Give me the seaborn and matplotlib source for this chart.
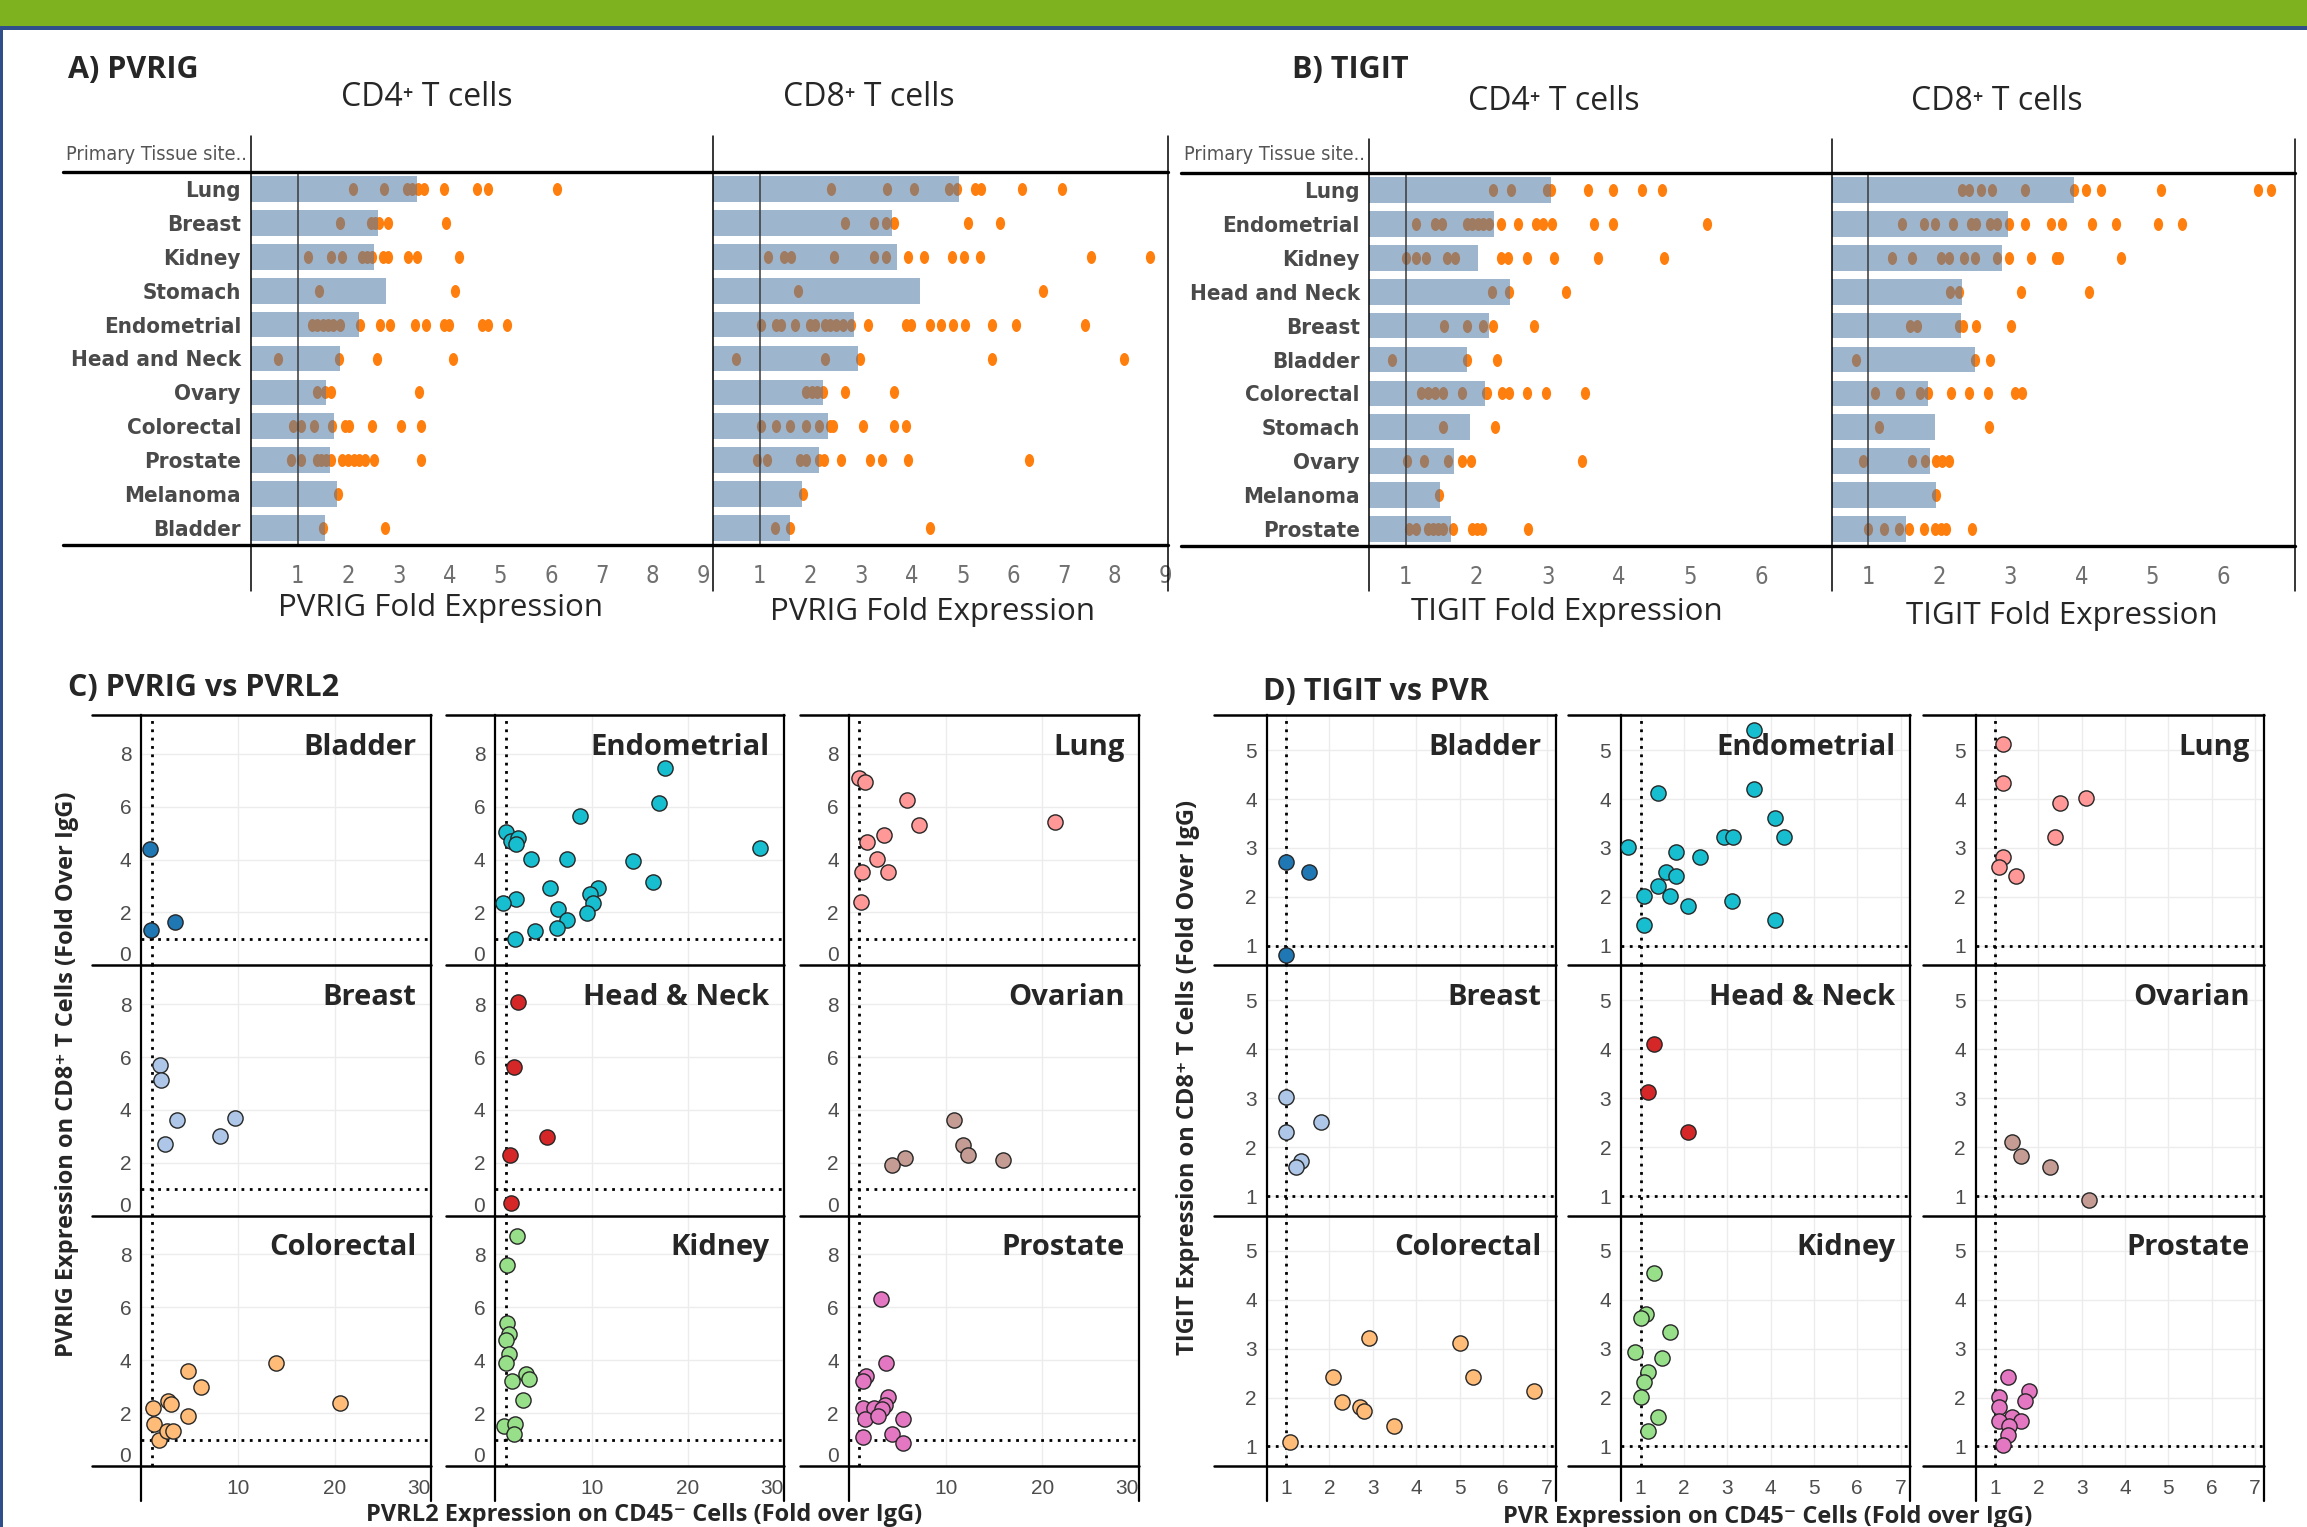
import numpy as np
import pandas as pd
import seaborn as sns
import matplotlib.pyplot as plt
from matplotlib.lines import Line2D
from matplotlib.patches import Rectangle
from matplotlib.markers import MarkerStyle
from matplotlib.transforms import Affine2D
from matplotlib import font_manager as fm

# ---------------- data: A) PVRIG fold expression ----------------
tissues_a = ["Lung", "Breast", "Kidney", "Stomach", "Endometrial", "Head and Neck",
             "Ovary", "Colorectal", "Prostate", "Melanoma", "Bladder"]
pvrig_cd4_bar = [3.35, 2.59, 2.51, 2.74, 2.21, 1.84, 1.56, 1.71, 1.63, 1.78, 1.54]
pvrig_cd4_dots = [
    [2.09, 2.70, 3.15, 3.25, 3.37, 3.50, 3.88, 4.54, 4.76, 6.12],
    [1.84, 2.44, 2.53, 2.60, 2.79, 3.93],
    [1.21, 1.65, 1.87, 2.26, 2.37, 2.47, 2.69, 2.78, 3.18, 3.35, 4.19],
    [1.41, 4.10],
    [1.28, 1.38, 1.49, 1.60, 1.69, 1.84, 2.22, 2.63, 2.82, 3.32, 3.53, 3.88, 3.99, 4.63, 4.75, 5.12],
    [0.60, 1.82, 2.56, 4.06],
    [1.37, 1.53, 1.65, 3.40],
    [0.91, 1.06, 1.31, 1.68, 1.93, 2.01, 2.46, 3.04, 3.44],
    [0.87, 1.07, 1.37, 1.46, 1.56, 1.65, 1.88, 2.00, 2.10, 2.21, 2.32, 2.51, 3.44],
    [1.79],
    [1.50, 2.72],
]
pvrig_cd8_bar = [4.92, 3.61, 3.70, 4.16, 2.85, 2.94, 2.25, 2.35, 2.16, 1.84, 1.59]
pvrig_cd8_dots = [
    [2.41, 3.51, 4.04, 4.73, 4.89, 5.24, 5.36, 6.18, 6.96],
    [2.67, 3.26, 3.49, 3.64, 5.11, 5.73],
    [1.17, 1.47, 1.62, 2.47, 3.26, 3.49, 3.92, 4.23, 4.79, 5.02, 5.35, 7.53, 8.69],
    [1.75, 6.58],
    [1.03, 1.32, 1.42, 1.70, 1.98, 2.09, 2.28, 2.38, 2.50, 2.64, 2.79, 3.13, 3.89, 3.99,
     4.36, 4.58, 4.80, 5.05, 5.58, 6.05, 7.42],
    [0.53, 2.29, 2.97, 5.57, 8.19],
    [1.91, 2.03, 2.13, 2.25, 2.67, 3.64],
    [1.03, 1.31, 1.59, 1.91, 2.17, 2.38, 2.45, 3.04, 3.64, 3.89],
    [0.95, 1.15, 1.79, 1.91, 2.17, 2.26, 2.60, 3.17, 3.41, 3.92, 6.31],
    [1.86],
    [1.29, 1.59, 4.35],
]

# ---------------- data: B) TIGIT fold expression ----------------
tissues_b = ["Lung", "Endometrial", "Kidney", "Head and Neck", "Breast", "Bladder",
             "Colorectal", "Stomach", "Ovary", "Melanoma", "Prostate"]
tigit_cd4_bar = [3.05, 2.24, 2.02, 2.47, 2.17, 1.87, 2.11, 1.90, 1.68, 1.48, 1.64]
tigit_cd4_dots = [
    [2.23, 2.48, 2.99, 3.04, 3.57, 3.92, 4.32, 4.61],
    [1.15, 1.41, 1.51, 1.87, 1.94, 2.02, 2.09, 2.17, 2.34, 2.58, 2.84, 2.94, 3.06, 3.65, 3.92, 5.24],
    [1.01, 1.15, 1.28, 1.58, 1.70, 2.34, 2.44, 2.71, 3.09, 3.71, 4.63],
    [2.21, 2.45, 3.26],
    [1.54, 1.87, 2.09, 2.23, 2.81],
    [0.81, 1.87, 2.29],
    [1.22, 1.31, 1.41, 1.53, 1.79, 2.13, 2.15, 2.35, 2.45, 2.71, 2.97, 3.53],
    [1.53, 2.26],
    [1.02, 1.26, 1.60, 1.79, 1.92, 3.48],
    [1.47],
    [1.05, 1.15, 1.31, 1.38, 1.46, 1.52, 1.66, 1.93, 2.01, 2.07, 2.72],
]
tigit_cd8_bar = [3.90, 2.97, 2.88, 2.32, 2.30, 2.50, 1.84, 1.94, 1.87, 1.96, 1.53]
tigit_cd8_dots = [
    [2.32, 2.42, 2.58, 2.74, 3.21, 3.90, 4.06, 4.27, 5.12, 6.48, 6.66],
    [1.47, 1.79, 1.94, 2.19, 2.44, 2.52, 2.72, 2.81, 2.98, 3.21, 3.57, 3.72, 4.15, 4.48, 5.08, 5.42],
    [1.33, 1.62, 2.02, 2.14, 2.35, 2.50, 2.81, 2.98, 3.29, 3.64, 3.69, 4.55],
    [2.15, 2.28, 3.15, 4.10],
    [1.59, 1.69, 2.28, 2.34, 2.52, 3.01],
    [0.83, 2.50, 2.71],
    [1.09, 1.45, 1.73, 1.84, 2.16, 2.42, 2.68, 3.07, 3.17],
    [1.15, 2.70],
    [0.93, 1.61, 1.80, 1.96, 2.04, 2.13],
    [1.96],
    [0.99, 1.22, 1.43, 1.58, 1.79, 1.94, 2.02, 2.09, 2.46],
]

# ---------------- data: C) PVRIG vs PVRL2, D) TIGIT vs PVR ----------------
facet_names = ["Bladder", "Endometrial", "Lung", "Breast", "Head & Neck", "Ovarian",
               "Colorectal", "Kidney", "Prostate"]
facet_colors = ["#1F77B4", "#17BECF", "#FF9896", "#AEC7E8", "#D62728", "#C49C94",
                "#FFBB78", "#98DF8A", "#E377C2"]

c_pvrl2 = [
    [0.85, 0.93, 3.41],
    [17.6, 17.05, 8.76, 1.09, 1.6, 2.25, 2.1, 3.64, 7.44, 14.34, 27.5, 16.43, 5.66, 10.62,
     9.77, 10.16, 6.51, 9.46, 2.09, 0.78, 7.44, 6.36, 4.03, 2.02],
    [1.0, 1.63, 5.97, 7.21, 21.3, 1.86, 3.57, 2.87, 1.32, 3.95, 1.16],
    [1.86, 1.94, 3.64, 2.4, 8.06, 9.69],
    [2.33, 1.86, 5.35, 1.47, 1.55],
    [10.85, 11.78, 12.33, 15.89, 5.74, 4.42],
    [4.82, 6.13, 13.89, 20.6, 2.72, 3.0, 4.82, 1.1, 1.27, 1.72, 2.65, 3.2],
    [2.17, 1.16, 1.16, 1.32, 1.0, 1.32, 1.0, 1.7, 3.1, 3.41, 2.79, 0.85, 2.02, 1.86],
    [3.26, 3.8, 1.71, 1.4, 3.95, 3.72, 1.4, 2.56, 3.41, 1.63, 2.95, 5.58, 1.4, 4.42, 5.58],
]
c_pvrig = [
    [4.41, 1.33, 1.63],
    [7.46, 6.13, 5.64, 5.03, 4.7, 4.82, 4.6, 4.01, 4.01, 3.95, 4.44, 3.14, 2.92, 2.92,
     2.71, 2.35, 2.14, 1.99, 2.52, 2.35, 1.70, 1.41, 1.30, 0.99],
    [7.07, 6.94, 6.24, 5.31, 5.44, 4.65, 4.93, 4.01, 3.52, 3.52, 2.41],
    [5.71, 5.12, 3.61, 2.72, 3.0, 3.69],
    [8.10, 5.61, 2.99, 2.31, 0.46],
    [3.61, 2.69, 2.31, 2.12, 2.18, 1.91],
    [3.61, 2.97, 3.91, 2.38, 2.44, 2.36, 1.88, 2.18, 1.59, 0.97, 1.32, 1.32],
    [8.71, 7.61, 5.42, 5.0, 4.78, 4.25, 3.91, 3.23, 3.48, 3.29, 2.48, 1.52, 1.60, 1.20],
    [6.31, 3.90, 3.41, 3.22, 2.62, 2.32, 2.20, 2.20, 2.16, 1.78, 1.88, 1.78, 1.10, 1.20, 0.88],
]
d_pvr = [
    [1.0, 1.54, 1.0],
    [3.61, 1.40, 3.61, 4.11, 4.31, 2.92, 3.13, 0.71, 1.81, 2.38, 1.59, 1.81, 1.40, 1.08,
     1.67, 2.09, 3.10, 4.11, 1.08],
    [1.18, 1.18, 2.50, 3.10, 2.38, 1.18, 1.10, 1.49],
    [1.0, 1.0, 1.81, 1.34, 1.22],
    [1.30, 1.18, 2.09],
    [1.39, 1.61, 2.28, 3.18],
    [1.10, 2.09, 2.29, 2.91, 2.71, 2.79, 3.49, 5.0, 5.30, 6.70],
    [1.30, 1.12, 1.0, 1.67, 0.88, 1.50, 1.18, 1.08, 1.0, 1.40, 1.18],
    [1.29, 1.79, 1.69, 1.10, 1.10, 1.39, 1.61, 1.10, 1.32, 1.29, 1.18],
]
d_tigit = [
    [2.71, 2.51, 0.81],
    [5.41, 4.12, 4.21, 3.62, 3.22, 3.22, 3.22, 3.02, 2.91, 2.81, 2.51, 2.42, 2.22, 2.02,
     2.02, 1.81, 1.92, 1.52, 1.43],
    [5.12, 4.33, 3.92, 4.02, 3.22, 2.82, 2.62, 2.42],
    [3.02, 2.31, 2.51, 1.72, 1.60],
    [4.12, 3.12, 2.31],
    [2.11, 1.81, 1.60, 0.92],
    [1.10, 2.42, 1.91, 3.22, 1.81, 1.72, 1.42, 3.12, 2.42, 2.13],
    [4.54, 3.70, 3.63, 3.33, 2.93, 2.81, 2.53, 2.31, 2.02, 1.61, 1.31],
    [2.43, 2.13, 1.93, 2.02, 1.81, 1.61, 1.52, 1.52, 1.42, 1.23, 1.02],
]

# ---------------- style ----------------
sns.set_style("white")
names = {f.name for f in fm.fontManager.ttflist}
NARROW = "Liberation Sans Narrow" if "Liberation Sans Narrow" in names else "DejaVu Sans"
NARROW_STRETCH = "normal" if NARROW == "Liberation Sans Narrow" else "condensed"
CAL = ["Open Sans", "DejaVu Sans"]       # stand-in for Calibri
ARIAL = ["Liberation Sans", "DejaVu Sans"]
plt.rcParams["font.family"] = CAL

ORANGE = "#FF7F0E"
BAR_BLUE = "#4E79A7"
GREEN = "#7FB21F"
NAVY = "#2E4F8A"

W, H = 2307, 1527
DPI = 100
fig = plt.figure(figsize=(W / DPI, H / DPI), dpi=DPI)


def px_box(x0, y0, x1, y1):
    return [x0 / W, 1 - y1 / H, (x1 - x0) / W, (y1 - y0) / H]


def fline(xs, ys, lw=1.2, color="black"):
    fig.add_artist(Line2D([x / W for x in xs], [1 - y / H for y in ys],
                          transform=fig.transFigure, color=color, lw=lw))


def ftext(x, y, s, **kw):
    fig.text(x / W, 1 - y / H, s, **kw)


# banner + left border
fig.add_artist(Rectangle((0, 1 - 26 / H), 1, 26 / H, transform=fig.transFigure,
                         color=GREEN, lw=0))
fig.add_artist(Rectangle((0, 1 - 30 / H), 1, 4 / H, transform=fig.transFigure,
                         color=NAVY, lw=0))
fig.add_artist(Rectangle((0, 0), 3 / W, 1 - 30 / H, transform=fig.transFigure,
                         color=NAVY, lw=0))

DOT = MarkerStyle("o", transform=Affine2D().scale(0.78, 1.1))


def draw_table(bounds, y_head, y_body, y_bot, tissues, columns, xlims, xticks):
    narrow = dict(family=NARROW, stretch=NARROW_STRETCH)
    for i, ((bars, dots), xl) in enumerate(zip(columns, xlims)):
        ax = fig.add_axes(px_box(bounds[i], y_body, bounds[i + 1], y_bot))
        df = pd.DataFrame({
            "tissue": [t for t, d in zip(tissues, dots) for _ in d],
            "value": [v for d in dots for v in d],
        })
        sns.stripplot(data=df, x="value", y="tissue", order=tissues, jitter=False,
                      color=ORANGE, size=8.5, marker=DOT, linewidth=0, ax=ax, zorder=2)
        sns.barplot(x=bars, y=tissues, order=tissues, orient="h", color=BAR_BLUE,
                    alpha=0.55, saturation=1, width=0.76, errorbar=None, linewidth=0,
                    ax=ax, zorder=3)
        ax.axvline(1, color="#3a3a3a", lw=1.1, zorder=4)
        ax.set_xlim(*xl)
        ax.set_ylim(len(tissues) - 0.5, -0.5)
        ax.set_xlabel("")
        ax.set_ylabel("")
        for s in ax.spines.values():
            s.set_visible(False)
        ax.set_xticks(xticks, labels=[str(t) for t in xticks], color="#707070",
                      fontsize=17, **narrow)
        ax.tick_params(axis="x", length=0, pad=14)
        if i == 0:
            ax.set_yticks(range(len(tissues)), labels=tissues, color="#4a4a4a",
                          fontsize=16, weight="bold", **narrow)
            ax.tick_params(axis="y", length=0, pad=7)
        else:
            ax.set_yticks(range(len(tissues)))
            ax.tick_params(axis="y", length=0, labelleft=False)
    # frame lines of the table
    fline([bounds[0] - 188, bounds[-1]], [y_body, y_body], lw=2.4)
    fline([bounds[0] - 188, bounds[-1]], [y_bot, y_bot], lw=2.4)
    for xb in bounds:
        fline([xb, xb], [y_head, 591], lw=1.1)
    ftext(bounds[0] - 185, y_body - 18, "Primary Tissue site..", color="#555555",
          fontsize=14.3, va="center", ha="left", **narrow)


draw_table([250.7, 712.7, 1168], 136, 172, 545, tissues_a,
           [(pvrig_cd4_bar, pvrig_cd4_dots), (pvrig_cd8_bar, pvrig_cd8_dots)],
           [(0.07, 9.19), (0.07, 9.05)], list(range(1, 10)))
draw_table([1369.4, 1832, 2295.4], 139, 173, 546, tissues_b,
           [(tigit_cd4_bar, tigit_cd4_dots), (tigit_cd8_bar, tigit_cd8_dots)],
           [(0.49, 7.0), (0.49, 7.01)], list(range(1, 7)))

# table titles
ftext(68, 70, "A) PVRIG", fontsize=22, weight="bold", va="center")
ftext(1292, 70, "B) TIGIT", fontsize=22, weight="bold", va="center")
for x, y, s in [(427, 98, "CD4\u207a T cells"), (869, 98, "CD8\u207a T cells"),
                (1554, 102, "CD4\u207a T cells"), (1997, 102, "CD8\u207a T cells")]:
    ftext(x, y, s, fontsize=23, ha="center", va="center")
for x, y, s in [(440, 608, "PVRIG Fold Expression"), (933, 612, "PVRIG Fold Expression"),
                (1567, 612, "TIGIT Fold Expression"), (2062, 616, "TIGIT Fold Expression")]:
    ftext(x, y, s, fontsize=22.5, ha="center", va="center")


# ---------------- scatter facets ----------------
ROWS = [715, 965.3, 1215.6, 1466]
DOTTED = (0, (1, 2))


def draw_facets(cols, left_ext, xs, ys, xlim, ylim, xticks, yticks, zero_up):
    for k, name in enumerate(facet_names):
        r, c = divmod(k, 3)
        x0, x1 = cols[c]
        ax = fig.add_axes(px_box(x0, ROWS[r], x1, ROWS[r + 1]))
        sns.scatterplot(x=xs[k], y=ys[k], color=facet_colors[k], s=120,
                        edgecolor="#262626", linewidth=1.0, ax=ax, zorder=5, legend=False)
        ax.axvline(1, ls=DOTTED, color="black", lw=2, zorder=3)
        ax.axhline(1, ls=DOTTED, color="black", lw=2, zorder=3)
        ax.set_xlim(*xlim)
        ax.set_ylim(*ylim)
        ax.set_xticks(xticks, labels=[str(t) for t in xticks])
        ax.set_yticks(yticks, labels=[str(t) for t in yticks])
        ax.grid(True, color="#ececec", lw=1.0)
        ax.set_axisbelow(True)
        ax.tick_params(length=0, labelsize=15, labelcolor="#4d4d4d", pad=7)
        for lab in ax.get_xticklabels() + ax.get_yticklabels():
            lab.set_family(ARIAL)
        if zero_up:
            ax.get_yticklabels()[0].set_va("bottom")
            ax.get_xticklabels()[-1].set_ha("right")
        ax.tick_params(axis="x", labelbottom=(r == 2), pad=9)
        ax.spines["bottom"].set_visible(False)
        ax.spines["top"].set_visible(False)
        for side in ["left", "right"]:
            ax.spines[side].set_color("black")
            ax.spines[side].set_linewidth(1.6)
        ext = left_ext / (x1 - x0)
        ax.plot([-ext, 1], [1, 1], transform=ax.transAxes, color="black", lw=1.8,
                clip_on=False)
        if r == 2:
            ax.plot([-ext, 1], [0, 0], transform=ax.transAxes, color="black", lw=1.8,
                    clip_on=False)
            for xv in (0, 1):
                ax.plot([xv, xv], [-0.14, 0], transform=ax.transAxes, color="black",
                        lw=1.6, clip_on=False)
        ax.set_xlabel("")
        ax.set_ylabel("")
        ax.text(0.95, 0.93, name, transform=ax.transAxes, ha="right", va="top",
                fontsize=21, weight="bold", zorder=6)


draw_facets([(141, 431), (495, 783.5), (848.5, 1139)], 49, c_pvrl2, c_pvrig,
            (-0.1, 30.0), (0, 9.47), [10, 20, 30], [0, 2, 4, 6, 8], True)
draw_facets([(1266.5, 1555.7), (1621, 1909.6), (1975.5, 2264)], 53, d_pvr, d_tigit,
            (0.55, 7.21), (0.6, 5.72), list(range(1, 8)), list(range(1, 6)), False)

ftext(68, 688, "C) PVRIG vs PVRL2", fontsize=22, weight="bold", va="center")
ftext(1263, 692, "D) TIGIT vs PVR", fontsize=22, weight="bold", va="center")
ftext(67, 1074, "PVRIG Expression on CD8\u207a T Cells (Fold Over IgG)", fontsize=17,
      weight="bold", rotation=90, ha="center", va="center")
ftext(1188, 1077, "TIGIT Expression on CD8\u207a T Cells (Fold Over IgG)", fontsize=17,
      weight="bold", rotation=90, ha="center", va="center")
ftext(644, 1521, "PVRL2 Expression on CD45\u207b Cells (Fold over IgG)", fontsize=17,
      weight="bold", ha="center", va="baseline")
ftext(1768, 1523, "PVR Expression on CD45\u207b Cells (Fold over IgG)", fontsize=17,
      weight="bold", ha="center", va="baseline")

fig.savefig("out.png", dpi=DPI)
